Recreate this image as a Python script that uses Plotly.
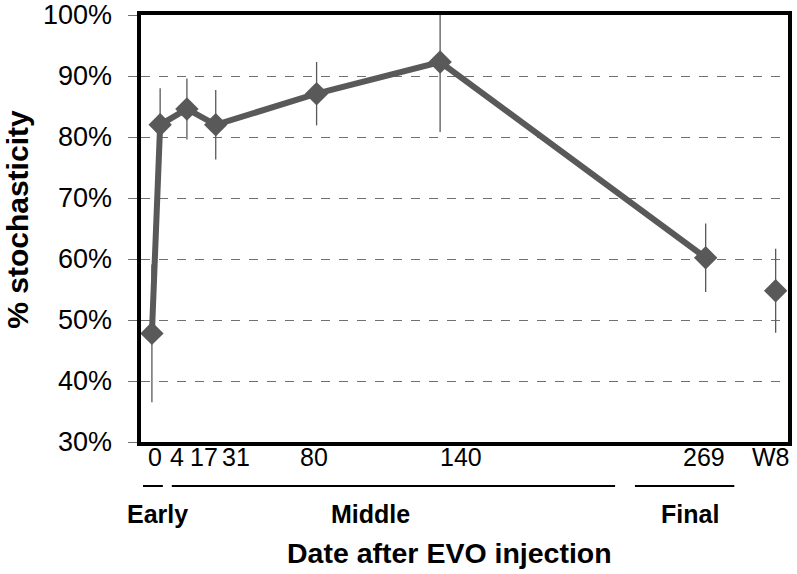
import plotly.graph_objects as go

# Data
days = [0, 4, 17, 31, 80, 140, 269]
values = [47.8, 82.0, 84.6, 82.0, 87.1, 92.3, 60.2]
errors = [11.3, 6.0, 5.0, 5.7, 5.2, 11.5, 5.6]
w8_day = [303]
w8_value = [54.8]
w8_error = [6.9]

y_ticks = [30, 40, 50, 60, 70, 80, 90, 100]
y_tick_labels = ["30%", "40%", "50%", "60%", "70%", "80%", "90%", "100%"]
tick_labels = ["0", "4", "17", "31", "80", "140", "269", "W8"]
tick_label_px = [155, 177, 204, 237, 315, 463, 707, 775]  # pixel centres of labels
phase_names = ["Early", "Middle", "Final"]
phase_spans_px = [(143, 163), (172, 618), (638, 738)]
phase_label_px = [158, 372, 693]

W, H = 797, 574
L, R, T, B = 141, 5, 15, 132
pw = W - L - R
ph = H - T - B

def px_x(x):
    return (x - L) / pw

def px_y(y):
    return (H - B - y) / ph

col = "#595959"
fig = go.Figure()
fig.add_trace(go.Scatter(
    x=days, y=values, mode="lines+markers",
    line=dict(color=col, width=6),
    marker=dict(symbol="diamond", size=18, color=col),
    error_y=dict(type="data", array=errors, color=col, thickness=1.3, width=0),
    showlegend=False,
))
fig.add_trace(go.Scatter(
    x=w8_day, y=w8_value, mode="markers",
    marker=dict(symbol="diamond", size=18, color=col),
    error_y=dict(type="data", array=w8_error, color=col, thickness=1.3, width=0),
    showlegend=False,
))

annotations = []
font = "Liberation Sans, Arial, sans-serif"
for lab, yv in zip(y_tick_labels, y_ticks):
    annotations.append(dict(text=lab, x=px_x(114), y=yv, xref="paper", yref="y",
                            showarrow=False, xanchor="right", yanchor="middle",
                            font=dict(family=font, size=27, color="black")))
for lab, xp in zip(tick_labels, tick_label_px):
    annotations.append(dict(text=lab, x=px_x(xp), y=px_y(457), xref="paper", yref="paper",
                            showarrow=False, xanchor="center", yanchor="middle",
                            font=dict(family=font, size=25, color="black")))
for name, xp in zip(phase_names, phase_label_px):
    annotations.append(dict(text="<b>" + name + "</b>", x=px_x(xp), y=px_y(514), xref="paper", yref="paper",
                            showarrow=False, xanchor="center", yanchor="middle",
                            font=dict(family=font, size=25, color="black")))
annotations.append(dict(text="<b>Date after EVO injection</b>", x=px_x(451), y=px_y(553),
                        xref="paper", yref="paper", showarrow=False, xanchor="center", yanchor="middle",
                        font=dict(family=font, size=28.5, color="black")))
annotations.append(dict(text="<b>% stochasticity</b>", x=px_x(16), y=px_y(219), textangle=-90,
                        xref="paper", yref="paper", showarrow=False, xanchor="center", yanchor="middle",
                        font=dict(family=font, size=30, color="black")))

shapes = []
for a, b in phase_spans_px:
    shapes.append(dict(type="line", xref="paper", yref="paper", x0=px_x(a), x1=px_x(b),
                       y0=px_y(486), y1=px_y(486), line=dict(color="black", width=2)))

fig.update_layout(
    width=W, height=H,
    margin=dict(l=L, r=R, t=T, b=B),
    plot_bgcolor="white", paper_bgcolor="white",
    annotations=annotations, shapes=shapes,
    xaxis=dict(range=[-5.3, 309], showticklabels=False, showgrid=False, zeroline=False,
               showline=True, mirror=True, linecolor="#000000", linewidth=3.5, ticks=""),
    yaxis=dict(range=[30, 100], tickvals=y_ticks, showticklabels=False,
               showgrid=True, gridcolor="#707070", griddash="dash", gridwidth=1.4,
               zeroline=False, showline=True, mirror=True, linecolor="#000000", linewidth=3.5,
               ticks="outside", ticklen=9, tickcolor="#707070", tickwidth=1.4),
)
fig.write_html("out.html", config={"displayModeBar": False})

with open("out.html", "r", encoding="utf-8") as f:
    html = f.read()
html = html.replace("<body>", '<body style="margin:0;padding:0;overflow:hidden">', 1)
html = html.replace("<head>", '<head><style>html,body{margin:0;padding:0;overflow:hidden}</style>', 1)
with open("out.html", "w", encoding="utf-8") as f:
    f.write(html)
